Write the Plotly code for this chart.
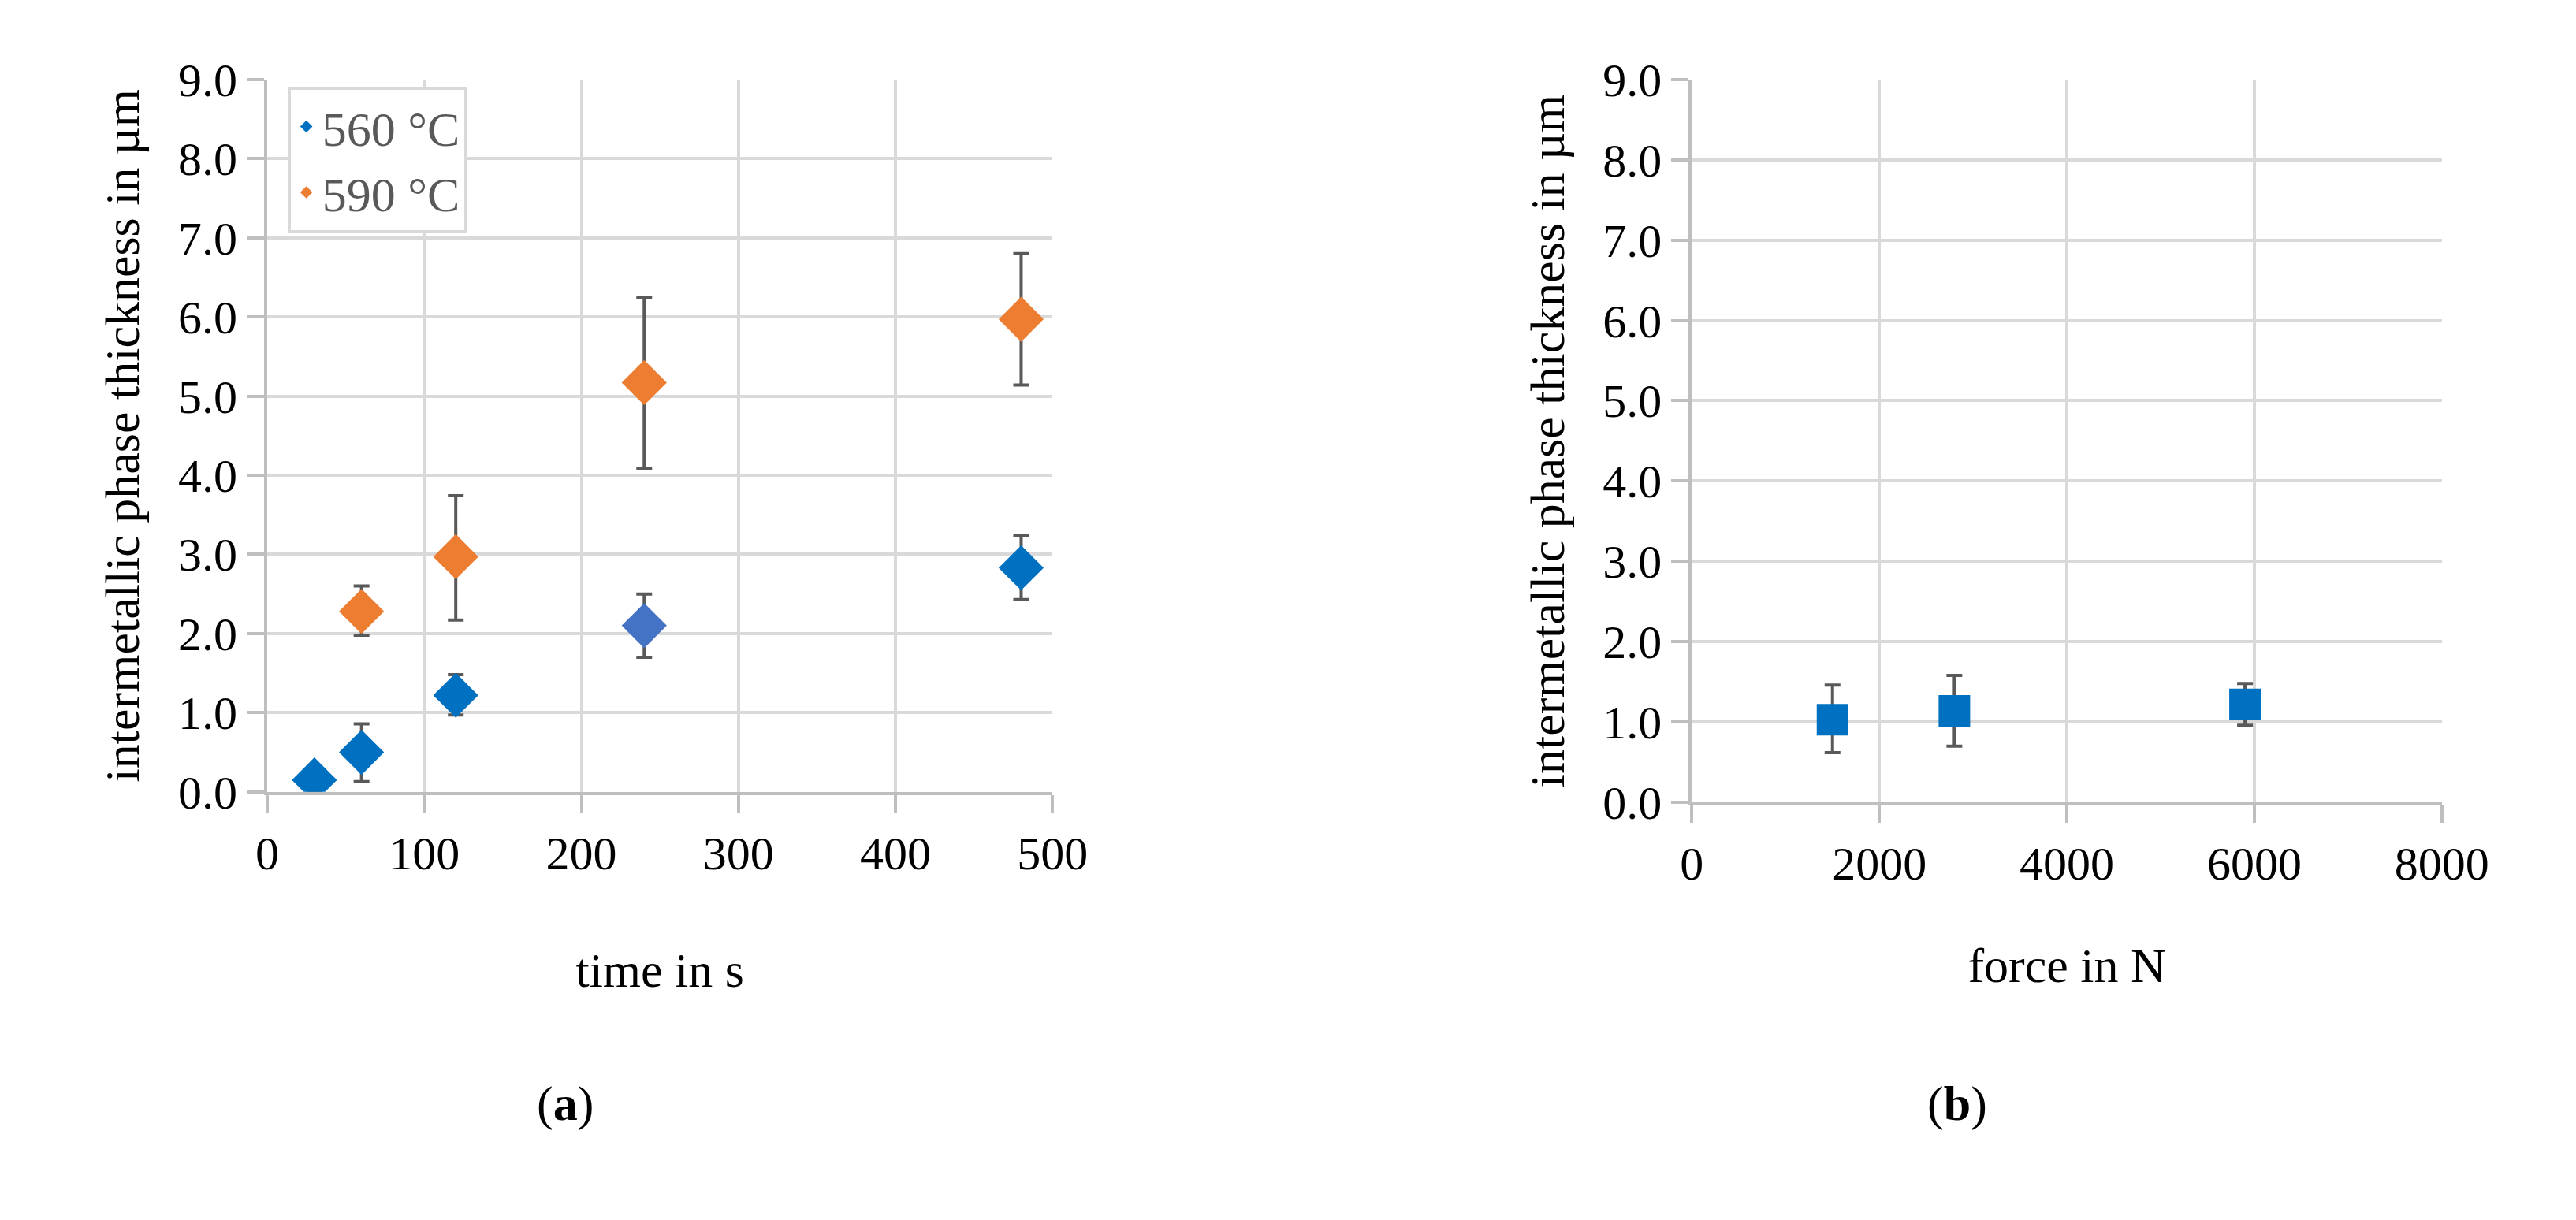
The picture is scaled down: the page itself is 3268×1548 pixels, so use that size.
import plotly.graph_objects as go

time_560 = [30, 60, 120, 240, 480]
val_560 = [0.15, 0.50, 1.22, 2.10, 2.83]
errp_560 = [0.15, 0.36, 0.26, 0.40, 0.41]
errm_560 = [0.15, 0.37, 0.25, 0.40, 0.40]
col_560 = ["#0070C0", "#0070C0", "#0070C0", "#4472C4", "#0070C0"]

time_590 = [60, 120, 240, 480]
val_590 = [2.28, 2.97, 5.17, 5.97]
errp_590 = [0.32, 0.77, 1.08, 0.83]
errm_590 = [0.30, 0.80, 1.08, 0.83]

force = [1500, 2800, 5900]
val_f = [1.03, 1.14, 1.22]
errp_f = [0.43, 0.44, 0.26]
errm_f = [0.41, 0.44, 0.26]

font = "Liberation Serif"
ecol = "#595959"
fig = go.Figure()
fig.add_trace(go.Scatter(x=time_560, y=val_560, mode="markers", name="560 °C",
    marker=dict(symbol="diamond", size=44, color=col_560),
    error_y=dict(type="data", array=errp_560, arrayminus=errm_560, color=ecol, thickness=4, width=10),
    xaxis="x", yaxis="y"))
fig.add_trace(go.Scatter(x=time_590, y=val_590, mode="markers", name="590 °C",
    marker=dict(symbol="diamond", size=44, color="#ED7D31"),
    error_y=dict(type="data", array=errp_590, arrayminus=errm_590, color=ecol, thickness=4, width=10),
    xaxis="x", yaxis="y"))
fig.add_trace(go.Scatter(x=force, y=val_f, mode="markers", showlegend=False,
    marker=dict(symbol="square", size=40, color="#0070C0"),
    error_y=dict(type="data", array=errp_f, arrayminus=errm_f, color=ecol, thickness=4, width=10),
    xaxis="x2", yaxis="y2"))

ax = dict(showgrid=True, gridcolor="#D9D9D9", gridwidth=4, showline=True, linecolor="#BFBFBF",
          linewidth=4, ticks="outside", ticklen=22, tickcolor="#BFBFBF", tickwidth=4,
          zeroline=False, tickfont=dict(family=font, size=60, color="black"),
          title_font=dict(family=font, size=62, color="black"))
yax = dict(ax, range=[0, 9], dtick=1, tickformat=".1f",
           title_text="intermetallic phase thickness in µm")
fig.update_layout(
    width=3268, height=1548, paper_bgcolor="white", plot_bgcolor="white",
    margin=dict(l=0, r=0, t=0, b=0),
    xaxis=dict(ax, domain=[0.099, 0.411], range=[0, 500], dtick=100, anchor="y",
               title_text="time in s", title_standoff=95),
    yaxis=dict(yax, domain=[0.349, 0.959], anchor="x", title_standoff=30),
    xaxis2=dict(ax, domain=[0.665, 0.963], range=[0, 8000], dtick=2000, anchor="y2",
                title_text="force in N", title_standoff=75),
    yaxis2=dict(yax, domain=[0.340, 0.959], anchor="x2", title_standoff=30),
    legend=dict(x=0.107, y=0.953, xanchor="left", yanchor="top", bgcolor="white",
                bordercolor="#D9D9D9", borderwidth=4, tracegroupgap=60, itemsizing="constant",
                font=dict(family=font, size=62, color="#595959")),
    annotations=[
        dict(text="(<b>a</b>)", x=0.2055, y=1-1459/1548, xref="paper", yref="paper",
             showarrow=False, font=dict(family=font, size=62, color="black")),
        dict(text="(<b>b</b>)", x=0.783, y=1-1459/1548, xref="paper", yref="paper",
             showarrow=False, font=dict(family=font, size=62, color="black")),
    ])
fig.write_html("out.html")
